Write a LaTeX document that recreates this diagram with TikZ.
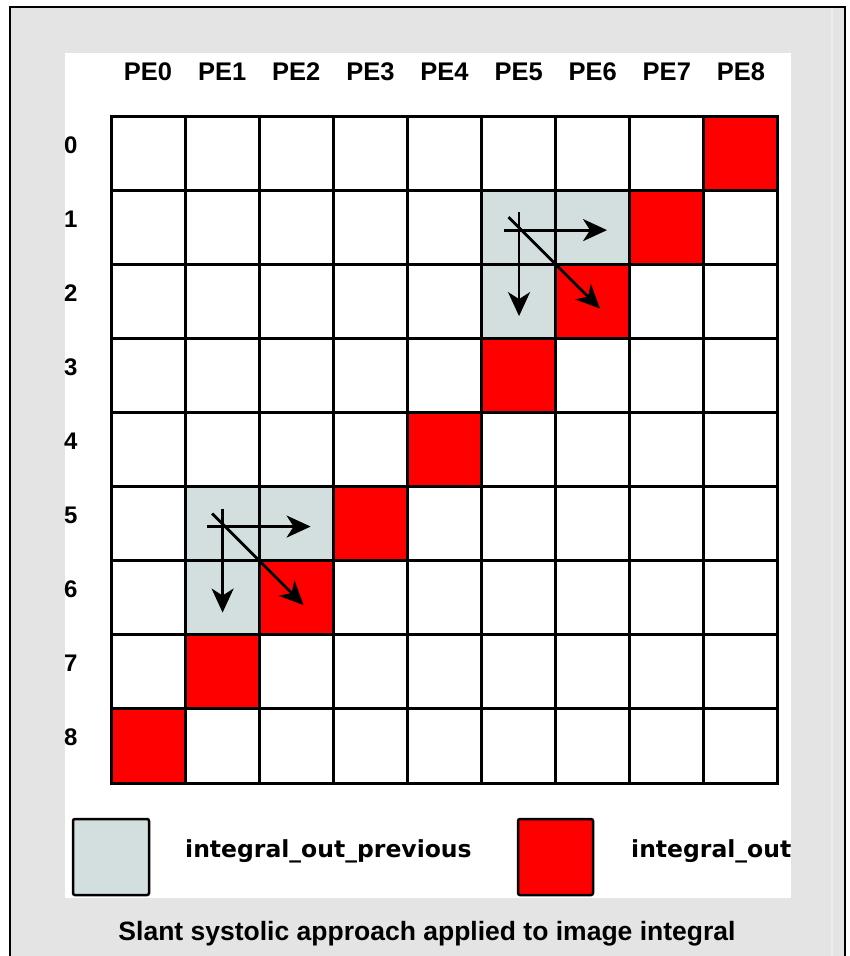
\documentclass[tikz,border=0pt]{standalone}
\usepackage{fontspec}
\setmainfont{Liberation Sans}
\newfontfamily\legendfont{DejaVu Sans}
\usetikzlibrary{arrows.meta}
\definecolor{bggray}{RGB}{228,228,228}
\definecolor{stripgray}{RGB}{238,238,238}
\definecolor{prevgray}{RGB}{211,223,223}
\definecolor{outred}{RGB}{255,0,0}
\expandafter\def\csname isgray1-5\endcsname{}
\expandafter\def\csname isgray1-6\endcsname{}
\expandafter\def\csname isgray2-5\endcsname{}
\expandafter\def\csname isgray5-1\endcsname{}
\expandafter\def\csname isgray5-2\endcsname{}
\expandafter\def\csname isgray6-1\endcsname{}
\begin{document}
\begin{tikzpicture}[x=1pt,y=-1pt,
  cellbox/.style={draw=black, line width=3pt, minimum size=74.11pt, inner sep=0pt, outer sep=0pt},
  legbox/.style={draw=black, line width=2.5pt, rounded corners=2pt, minimum height=76pt, inner sep=0pt, outer sep=0pt},
  pelabel/.style={font=\bfseries\fontsize{25.5}{30}\selectfont, inner sep=0pt, anchor=base},
  rowlabel/.style={font=\bfseries\fontsize{24}{29}\selectfont, inner sep=0pt, anchor=base west},
  legtext/.style={font=\legendfont\bfseries\fontsize{23.5}{28}\selectfont, inner sep=0pt, anchor=base west},
  captext/.style={font=\bfseries\fontsize{26.5}{32}\selectfont, inner sep=0pt, anchor=base},
  flowarrow/.style={line width=2.8pt, -{Stealth[length=24pt,width=22pt,inset=7pt]}}
]
\useasboundingbox (0,0) rectangle (849,956);
\fill[white] (0,0) rectangle (849,956);
\fill[bggray] (10,7) rectangle (845,956);
\draw[stripgray, line width=1.2pt] (832,8) -- (832,956);
\draw[black, line width=2.5pt] (10,958) -- (10,7) -- (845,7) -- (845,958);
\fill[white] (65,53) rectangle (791,898);

% grid cells
\foreach \r in {0,...,8}{
  \foreach \c in {0,...,8}{
    \def\cfill{white}
    \ifcsname isgray\r-\c\endcsname \def\cfill{prevgray}\fi
    \ifnum\numexpr\r+\c\relax=8 \def\cfill{outred}\fi
    \node[cellbox, fill=\cfill] (c\r\c) at ({111+74.11*(\c+0.5)}, {116+74.11*(\r+0.5)}) {};
  }
}

% column labels
\foreach \c in {0,...,8}{
  \node[pelabel] (pe\c) at ({111+74.11*(\c+0.5)}, 80) {PE\c};
}
% row labels
\foreach \r in {0,...,8}{
  \node[rowlabel] (row\r) at (64, {116+74.11*(\r+0.5)}) {\r};
}

% arrows, upper group (cell row 1, col 5) and lower group (row 5, col 1)
\foreach \g/\cell in {u/c15, l/c51}{
  \coordinate (\g vs) at ([shift={(37.5,22)}]\cell.north west);
  \coordinate (\g ve) at ([shift={(37.5,126)}]\cell.north west);
  \coordinate (\g hs) at ([shift={(22,40)}]\cell.north west);
  \coordinate (\g he) at ([shift={(125.5,40)}]\cell.north west);
  \coordinate (\g ds) at ([shift={(27,27)}]\cell.north west);
  \coordinate (\g de) at ([shift={(118.5,118.5)}]\cell.north west);
  \draw[flowarrow] (\g vs) -- (\g ve);
  \draw[flowarrow] (\g hs) -- (\g he);
  \draw[flowarrow] (\g ds) -- (\g de);
}

% legend
\node[legbox, fill=prevgray, minimum width=76pt] (legprev) at (111,857) {};
\node[legtext] (legprevtxt) at (185,857) {integral\_out\_previous};
\node[legbox, fill=outred, minimum width=75pt] (legout) at (555.5,857) {};
\node[legtext] (legouttxt) at (631,857) {integral\_out};

% caption
\node[captext] (caption) at (427,940) {Slant systolic approach applied to image integral};
\end{tikzpicture}
\end{document}
